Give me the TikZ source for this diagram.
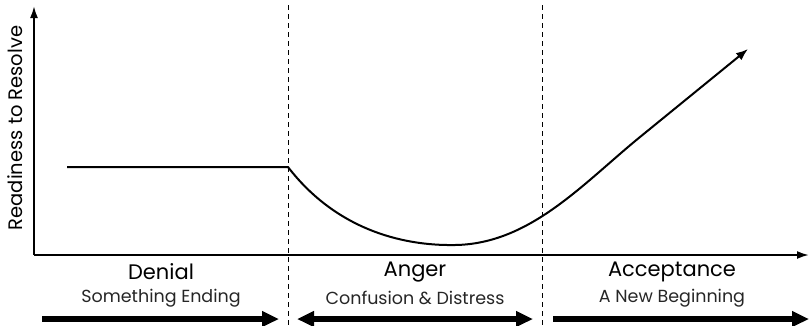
\documentclass[tikz,border=0pt]{standalone}
\usepackage{fontspec}
\setmainfont{Poppins}
\usetikzlibrary{arrows.meta}
\begin{document}
\begin{tikzpicture}[x=1pt,y=-1pt,
  axis/.style={line width=2pt,-{Latex[length=12pt,width=8pt]}},
  divider/.style={line width=0.9pt,dash pattern=on 5pt off 4pt},
  curve/.style={line width=2pt,-{Latex[length=12pt,width=9pt]}},
  phase/.style={line width=6pt,-{Triangle[length=17pt,width=15pt]}},
  phase2/.style={line width=6pt,{Triangle[length=17pt,width=15pt]}-{Triangle[length=17pt,width=15pt]}},
  title/.style={font=\fontsize{21}{23}\selectfont,inner sep=0pt},
  sub/.style={font=\fontsize{17.5}{19}\selectfont\color{black!85},inner sep=0pt}]
\useasboundingbox (0,0) rectangle (810,325);
% axes
\coordinate (O) at (34,255);
\coordinate (Ytop) at (34,6);
\coordinate (Xend) at (809,255);
\draw[axis] (O) -- (Ytop);
\draw[axis] (O) -- (Xend);
\node[rotate=90,inner sep=0pt,font=\fontsize{19.5}{21}\selectfont] (ylab) at (15,128) {Readiness to Resolve};
% dividers
\coordinate (d1t) at (288,5); \coordinate (d1b) at (288,325);
\coordinate (d2t) at (542,5); \coordinate (d2b) at (542,325);
\draw[divider] (d1t) -- (d1b);
\draw[divider] (d2t) -- (d2b);
% curve
\coordinate (p0) at (67,167);
\coordinate (p1) at (288,167);
\coordinate (pmin) at (455,245);
\coordinate (p2) at (640,137);
\coordinate (tip) at (748,49);
\draw[curve] (p0) -- (p1) .. controls (335,228) and (400,246) .. (pmin)
  .. controls (530,244) and (583,183.5) .. (p2) -- (tip);
% labels
\node[title] (t1) at (161,272) {Denial};
\node[sub] (s1) at (161,298) {Something Ending};
\node[title] (t2) at (415,272) {Anger};
\node[sub] (s2) at (415,298) {Confusion \& Distress};
\node[title] (t3) at (672,272) {Acceptance};
\node[sub] (s3) at (672,298) {A New Beginning};
% phase arrows
\coordinate (a1s) at (42,319); \coordinate (a1e) at (279,319);
\coordinate (a2s) at (297,319); \coordinate (a2e) at (533,319);
\coordinate (a3s) at (553,319); \coordinate (a3e) at (809,319);
\draw[phase] (a1s) -- (a1e);
\draw[phase2] (a2s) -- (a2e);
\draw[phase] (a3s) -- (a3e);
\end{tikzpicture}
\end{document}
